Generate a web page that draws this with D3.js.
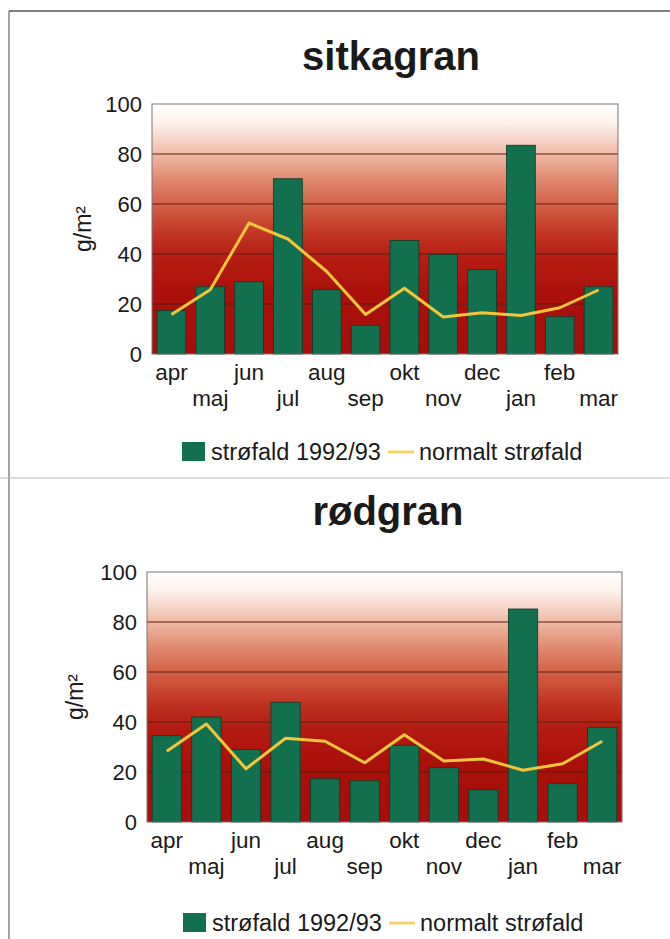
<!DOCTYPE html>
<html>
<head>
<meta charset="utf-8">
<script src="https://cdn.jsdelivr.net/npm/d3@7/dist/d3.min.js"></script>
<style>
  body { margin: 0; background: #fff; }
  svg { display: block; font-family: "Liberation Sans", Arial, sans-serif; }
</style>
</head>
<body>
<div id="chart"></div>
<script>
// data
var months = ["apr","maj","jun","jul","aug","sep","okt","nov","dec","jan","feb","mar"];
var sitkaFall = [17.4, 26.9, 28.9, 70.1, 25.7, 11.5, 45.4, 39.8, 33.8, 83.5, 14.9, 26.9];
var sitkaNormal = [15.8, 25.7, 52.4, 46.0, 33.0, 15.8, 26.3, 14.8, 16.5, 15.4, 18.5, 25.6];
var roedFall = [34.5, 42.0, 29.0, 47.9, 17.3, 16.5, 30.7, 21.7, 12.9, 85.2, 15.3, 37.9];
var roedNormal = [28.3, 39.2, 21.3, 33.5, 32.3, 23.7, 34.9, 24.4, 25.2, 20.7, 23.3, 32.3];
var yTicks = [0, 20, 40, 60, 80, 100];
var legendLabels = ["strøfald 1992/93", "normalt strøfald"];

var W = 670, H = 939;
var barColor = "#13704f", lineColor = "#f2c63a";

var svg = d3.select("#chart").append("svg")
    .attr("width", W)
    .attr("height", H);

// background gradient of the plot areas
var grad = svg.append("defs").append("linearGradient")
    .attr("id", "bg")
    .attr("x1", 0).attr("y1", 0).attr("x2", 0).attr("y2", 1);
[["0%", "#ffffff"], ["8%", "#fdf0ea"], ["18%", "#f2c3b0"], ["30%", "#e08a70"],
 ["42%", "#d05a40"], ["52%", "#c13423"], ["62%", "#b41c12"], ["75%", "#ab110b"], ["100%", "#a70e0a"]]
  .forEach(function(s) { grad.append("stop").attr("offset", s[0]).attr("stop-color", s[1]); });

// page frame
svg.append("line").attr("x1", 9).attr("x2", W).attr("y1", 11).attr("y2", 11)
    .attr("stroke", "#555").attr("stroke-width", 1.5);
svg.append("line").attr("x1", 9).attr("x2", 9).attr("y1", 11).attr("y2", H)
    .attr("stroke", "#666").attr("stroke-width", 1.2);
svg.append("line").attr("x1", 0).attr("x2", W).attr("y1", 478).attr("y2", 478)
    .attr("stroke", "#bbb").attr("stroke-width", 1);

function drawPanel(p) {
  var x = d3.scaleBand()
      .domain(months)
      .range([p.left, p.right])
      .paddingInner(0.26)
      .paddingOuter(0.13);
  var y = d3.scaleLinear()
      .domain([0, 100])
      .range([p.bottom, p.top]);

  var g = svg.append("g");

  // title
  g.append("text")
      .attr("x", p.titleX)
      .attr("y", p.titleY)
      .attr("text-anchor", "middle")
      .attr("font-size", 40)
      .attr("font-weight", "bold")
      .attr("fill", "#1a1a1a")
      .text(p.title);

  // plot background
  g.append("rect")
      .attr("x", p.left).attr("y", p.top)
      .attr("width", p.right - p.left).attr("height", p.bottom - p.top)
      .attr("fill", "url(#bg)");

  // gridlines
  g.selectAll(".grid")
      .data(yTicks.filter(function(d) { return d > 0 && d < 100; }))
    .enter().append("line")
      .attr("x1", p.left).attr("x2", p.right)
      .attr("y1", function(d) { return y(d); })
      .attr("y2", function(d) { return y(d); })
      .attr("stroke", "#5e1a10")
      .attr("stroke-width", 1);

  // bars
  g.selectAll(".bar")
      .data(p.bars)
    .enter().append("rect")
      .attr("x", function(d, i) { return x(months[i]); })
      .attr("width", x.bandwidth())
      .attr("y", function(d) { return y(d); })
      .attr("height", function(d) { return y(0) - y(d); })
      .attr("fill", barColor)
      .attr("stroke", "#0a3a28")
      .attr("stroke-width", 0.8);

  // normal line
  var line = d3.line()
      .x(function(d, i) { return x(months[i]) + x.bandwidth() / 2; })
      .y(function(d) { return y(d); });
  g.append("path")
      .datum(p.line)
      .attr("d", line)
      .attr("fill", "none")
      .attr("stroke", lineColor)
      .attr("stroke-width", 3)
      .attr("stroke-linejoin", "round");

  // plot border
  g.append("rect")
      .attr("x", p.left).attr("y", p.top)
      .attr("width", p.right - p.left).attr("height", p.bottom - p.top)
      .attr("fill", "none")
      .attr("stroke", "#777")
      .attr("stroke-width", 1);

  // y axis labels
  var yAxis = g.append("g")
      .attr("transform", "translate(" + p.left + ",0)")
      .call(d3.axisLeft(y).tickValues(yTicks).tickSize(0).tickPadding(10));
  yAxis.select(".domain").remove();
  yAxis.selectAll("text")
      .attr("font-size", 22)
      .attr("font-family", "Liberation Sans, Arial, sans-serif")
      .attr("fill", "#1a1a1a");

  // x axis labels, staggered on two rows
  var xAxis = g.append("g")
      .attr("transform", "translate(0," + p.bottom + ")")
      .call(d3.axisBottom(x).tickSize(0).tickPadding(0));
  xAxis.select(".domain").remove();
  xAxis.selectAll("text")
      .attr("font-size", 22.5)
      .attr("font-family", "Liberation Sans, Arial, sans-serif")
      .attr("fill", "#1a1a1a")
      .attr("dy", null)
      .attr("y", function(d, i) { return i % 2 === 0 ? 26 : 52; });

  // y axis title
  g.append("text")
      .attr("transform", "translate(" + p.yTitleX + "," + ((p.top + p.bottom) / 2) + ") rotate(-90)")
      .attr("text-anchor", "middle")
      .attr("font-size", 23)
      .attr("fill", "#1a1a1a")
      .text("g/m²");

  // legend
  var lg = g.append("g").attr("transform", "translate(" + p.legendX + "," + p.legendY + ")");
  lg.append("rect")
      .attr("x", 0).attr("y", -10)
      .attr("width", 23).attr("height", 19)
      .attr("fill", barColor);
  lg.append("text")
      .attr("x", 29).attr("y", 8)
      .attr("font-size", 23.5)
      .attr("fill", "#1a1a1a")
      .text(legendLabels[0]);
  lg.append("line")
      .attr("x1", 206).attr("x2", 232)
      .attr("y1", 0).attr("y2", 0)
      .attr("stroke", "#f5d566")
      .attr("stroke-width", 3);
  lg.append("text")
      .attr("x", 237).attr("y", 8)
      .attr("font-size", 23.5)
      .attr("fill", "#1a1a1a")
      .text(legendLabels[1]);
}

drawPanel({
  title: "sitkagran", titleX: 391, titleY: 70,
  left: 152, right: 618, top: 104, bottom: 354,
  yTitleX: 91,
  bars: sitkaFall, line: sitkaNormal,
  legendX: 182, legendY: 452
});

drawPanel({
  title: "rødgran", titleX: 388, titleY: 525,
  left: 147, right: 622, top: 572, bottom: 822,
  yTitleX: 83,
  bars: roedFall, line: roedNormal,
  legendX: 183, legendY: 923
});
</script>
</body>
</html>
